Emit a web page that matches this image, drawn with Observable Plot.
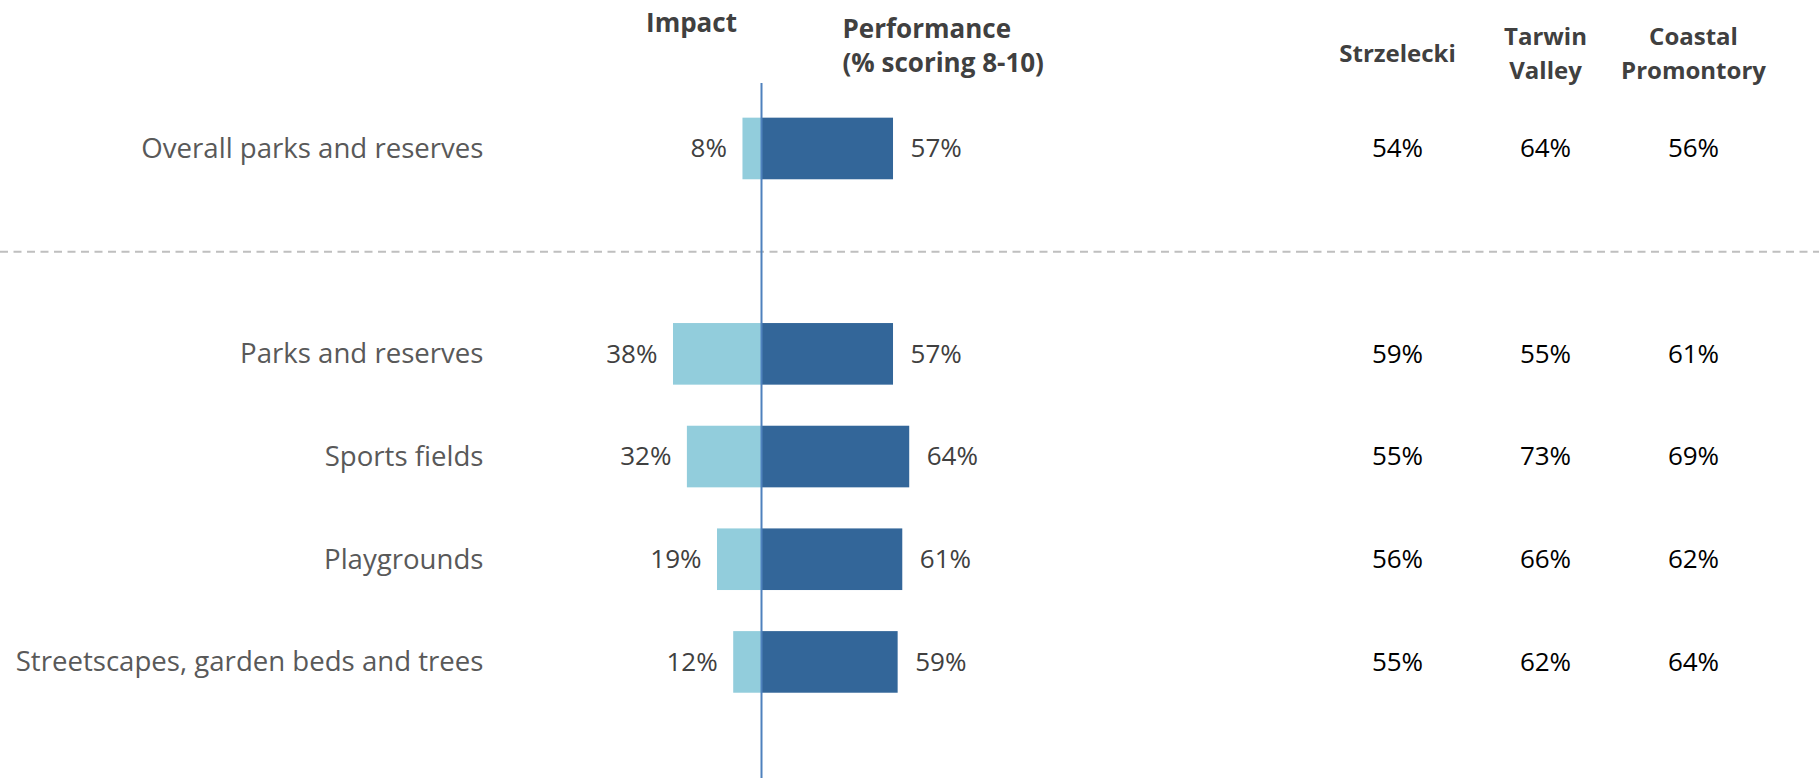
<!DOCTYPE html>
<html>
<head>
<meta charset="utf-8">
<script src="https://cdn.jsdelivr.net/npm/d3@7"></script>
<script src="https://cdn.jsdelivr.net/npm/@observablehq/plot@0.6"></script>
<style>
  html, body { margin: 0; padding: 0; background: #fff; overflow: hidden; }
  #wrap { display: flex; width: 1819px; height: 778px; }
  #wrap svg { display: block; }
</style>
</head>
<body>
<div id="wrap"></div>
<script>
// ---- data ----
const categories = ["Overall parks and reserves", "Parks and reserves", "Sports fields", "Playgrounds", "Streetscapes, garden beds and trees"];
const impact = [8, 38, 32, 19, 12];
const performance = [57, 57, 64, 61, 59];
const regions = ["Strzelecki", "Tarwin Valley", "Coastal Promontory"];
const regionHeaders = ["Strzelecki", "Tarwin\nValley", "Coastal\nPromontory"];
const strzelecki = [54, 59, 55, 56, 55];
const tarwinValley = [64, 55, 73, 66, 62];
const coastalPromontory = [56, 61, 69, 62, 64];
const headerImpact = "Impact";
const headerPerformance = "Performance\n(% scoring 8-10)";

// ---- derived tables ----
const gapKey = " ";
const yDomain = [categories[0], gapKey, ...categories.slice(1)];
const rows = categories.map((c, i) => ({name: c, impact: impact[i], performance: performance[i]}));
const regionValues = [strzelecki, tarwinValley, coastalPromontory];
const cells = [];
regions.forEach((r, j) => categories.forEach((c, i) => cells.push({region: r, name: c, value: regionValues[j][i]})));
const headerRows = regions.map((r, j) => ({region: r, label: regionHeaders[j]}));

const font = "Open Sans";
const H = 778, TOP = 83;
const yScale = {type: "band", domain: yDomain, paddingInner: 0.4, paddingOuter: 0.584, align: 0.289, round: false};
const pxPerPct = 2.316;
const leftW = 1300, rightW = 519;
const pct = d => d + "%";

const left = Plot.plot({
  width: leftW, height: H,
  marginLeft: 0, marginRight: 0, marginTop: TOP, marginBottom: 0,
  style: {fontFamily: font, background: "#fff", overflow: "visible"},
  x: {domain: [-761 / pxPerPct, (leftW - 761) / pxPerPct], axis: null},
  y: {...yScale, axis: null},
  marks: [
    Plot.ruleY([gapKey], {stroke: "#BFBFBF", strokeWidth: 2, strokeDasharray: "8,5.5"}),
    Plot.barX(rows, {y: "name", x1: d => -d.impact, x2: 0, fill: "#92CDDC"}),
    Plot.barX(rows, {y: "name", x1: 0, x2: "performance", fill: "#336699"}),
    Plot.ruleX([0], {stroke: "#4F81BD", strokeWidth: 2}),
    Plot.text(rows, {y: "name", x: d => -d.impact, text: d => pct(d.impact), dx: -16, textAnchor: "end", fontSize: 26, fill: "#404040"}),
    Plot.text(rows, {y: "name", x: "performance", text: d => pct(d.performance), dx: 17, textAnchor: "start", fontSize: 26, fill: "#404040"}),
    Plot.text(rows, {y: "name", text: "name", frameAnchor: "left", dx: 483, textAnchor: "end", fontSize: 27.6, fill: "#595959"}),
    Plot.text([headerImpact], {text: d => d, frameAnchor: "top-left", dx: 691, dy: -70, lineAnchor: "top", textAnchor: "middle", fontSize: 26, fontWeight: "bold", fill: "#404040"}),
    Plot.text([headerPerformance], {text: d => d, frameAnchor: "top-left", dx: 842, dy: -70, lineAnchor: "top", textAnchor: "start", lineHeight: 1.31, fontSize: 26, fontWeight: "bold", fill: "#404040"})
  ]
});

const right = Plot.plot({
  width: rightW, height: H,
  marginLeft: 0, marginRight: 0, marginTop: TOP, marginBottom: 0,
  style: {fontFamily: font, background: "#fff", overflow: "visible"},
  x: {type: "point", domain: regions, padding: 0.753, align: 0.435, axis: null},
  y: {...yScale, axis: null},
  marks: [
    Plot.ruleY([gapKey], {stroke: "#BFBFBF", strokeWidth: 2, strokeDasharray: "8,5.5"}),
    Plot.text(cells, {x: "region", y: "name", text: d => pct(d.value), fontSize: 26, fill: "#000"}),
    Plot.text(headerRows, {x: "region", text: "label", frameAnchor: "top", dy: -32, lineAnchor: "middle", lineHeight: 1.4, fontSize: 24, fontWeight: "bold", fill: "#404040"})
  ]
});

document.getElementById("wrap").append(left, right);
</script>
</body>
</html>
